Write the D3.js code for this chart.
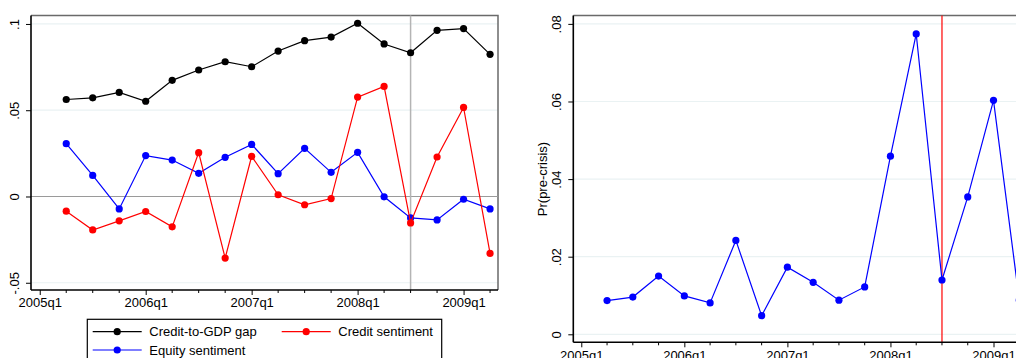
<!DOCTYPE html>
<html>
<head>
<meta charset="utf-8">
<script src="https://cdn.jsdelivr.net/npm/d3@7"></script>
<style>
  html, body { margin: 0; padding: 0; background: #fff; overflow: hidden; }
  svg { display: block; font-family: "Liberation Sans", Arial, sans-serif; }
</style>
</head>
<body>
<svg id="chart" width="1016" height="358"></svg>
<script>
// ---- data ----
const quarters = ["2005q2","2005q3","2005q4","2006q1","2006q2","2006q3","2006q4","2007q1","2007q2","2007q3","2007q4","2008q1","2008q2","2008q3","2008q4","2009q1","2009q2"];
const xTickLabels = ["2005q1","2006q1","2007q1","2008q1","2009q1"];
const creditGap = [0.0562,0.0572,0.0603,0.0552,0.0673,0.0733,0.0781,0.0752,0.0843,0.0903,0.0924,0.1004,0.0884,0.0833,0.0963,0.0973,0.0824];
const creditSentiment = [-0.0085,-0.0194,-0.0141,-0.0087,-0.0176,0.0254,-0.0357,0.0233,0.0010,-0.0048,-0.0012,0.0576,0.0638,-0.0153,0.0229,0.0516,-0.0330];
const equitySentiment = [0.0306,0.0122,-0.0072,0.0237,0.0211,0.0134,0.0227,0.0302,0.0132,0.0279,0.0140,0.0256,-0.0002,-0.0124,-0.0136,-0.0016,-0.0072];
const prCrisis = [0.0087,0.0096,0.0150,0.0099,0.0081,0.0242,0.0048,0.0173,0.0134,0.0088,0.0122,0.0459,0.0774,0.0140,0.0354,0.0603,0.0088];
const leftYTicks = [-0.05, 0, 0.05, 0.1];
const leftYTickLabels = ["-.05", "0", ".05", ".1"];
const rightYTicks = [0, 0.02, 0.04, 0.06, 0.08];
const rightYTickLabels = ["0", ".02", ".04", ".06", ".08"];
const crisisQuarter = "2008q3";
const legendLabels = ["Credit-to-GDP gap", "Credit sentiment", "Equity sentiment"];
const rightYTitle = "Pr(pre-crisis)";

// ---- helpers ----
const qIndex = s => (parseInt(s.slice(0, 4)) - 2005) * 4 + parseInt(s.slice(5)) - 1;
const svg = d3.select("#chart");
const gridColor = "#eaf2f3";
const allQuarterIdx = d3.range(0, 18);
const majorIdx = xTickLabels.map(qIndex);

function drawPanel(cfg) {
  const g = svg.append("g");
  const x = d3.scaleLinear().domain(cfg.xDomain).range([cfg.left, cfg.right]);
  const y = d3.scaleLinear().domain(cfg.yDomain).range([cfg.bottom, cfg.top]);

  // gridlines
  g.append("g").selectAll("line").data(cfg.yTicks).join("line")
    .attr("x1", cfg.left).attr("x2", cfg.right)
    .attr("y1", d => y(d)).attr("y2", d => y(d))
    .attr("stroke", gridColor).attr("stroke-width", 1.2);

  // frame top/right
  g.append("path")
    .attr("d", `M${cfg.left},${cfg.top}H${cfg.right}V${cfg.bottom}`)
    .attr("fill", "none").attr("stroke", "#6a6a6a").attr("stroke-width", 1.5);

  if (cfg.extra) cfg.extra(g, x, y);

  // series
  cfg.series.forEach(s => {
    const pts = quarters.map((q, i) => [qIndex(q), s.values[i]]);
    g.append("path").datum(pts)
      .attr("d", d3.line().x(d => x(d[0])).y(d => y(d[1])))
      .attr("fill", "none").attr("stroke", s.color).attr("stroke-width", 1.2);
    g.append("g").selectAll("circle").data(pts).join("circle")
      .attr("cx", d => x(d[0])).attr("cy", d => y(d[1]))
      .attr("r", 3.6).attr("fill", s.color);
  });

  // y axis
  const yAxis = d3.axisLeft(y).tickValues(cfg.yTicks).tickSize(5)
    .tickFormat((d, i) => cfg.yTickLabels[i]);
  const ya = g.append("g").attr("transform", `translate(${cfg.left},0)`).call(yAxis);
  ya.select(".domain").attr("stroke", "#000").attr("stroke-width", 1.6)
    .attr("d", `M0,${cfg.top}V${cfg.bottom}`);
  ya.selectAll(".tick line").attr("stroke", "#000").attr("stroke-width", 1);
  ya.selectAll(".tick text")
    .attr("transform", "rotate(-90)")
    .attr("x", 0).attr("y", -12).attr("dy", 0)
    .attr("text-anchor", "middle")
    .attr("font-size", 13).attr("fill", "#000")
    .style("font-family", "'Liberation Sans', Arial, sans-serif");

  // x axis: minor ticks
  const xa = g.append("g").attr("transform", `translate(0,${cfg.bottom})`);
  xa.append("g").selectAll("line").data(allQuarterIdx.filter(d => !majorIdx.includes(d))).join("line")
    .attr("x1", d => x(d)).attr("x2", d => x(d)).attr("y1", 0).attr("y2", 3)
    .attr("stroke", "#000").attr("stroke-width", 1);
  const xAxis = d3.axisBottom(x).tickValues(majorIdx).tickSize(5)
    .tickFormat((d, i) => xTickLabels[i]);
  const xg = xa.append("g").call(xAxis);
  xg.select(".domain").attr("stroke", "#000").attr("stroke-width", 1.6)
    .attr("d", `M${cfg.left},0H${cfg.right}`);
  xg.selectAll(".tick line").attr("stroke", "#000").attr("stroke-width", 1);
  xg.selectAll(".tick text").attr("font-size", 13).attr("fill", "#000").attr("y", 8).attr("dy", "0.71em")
    .style("font-family", "'Liberation Sans', Arial, sans-serif");

  return { x, y, g };
}

// ---- left panel ----
drawPanel({
  left: 31, right: 498, top: 15.5, bottom: 290,
  xDomain: [-0.33, 17.3], yDomain: [-0.0542, 0.1049],
  yTicks: leftYTicks, yTickLabels: leftYTickLabels,
  series: [
    { values: creditGap, color: "#000000" },
    { values: equitySentiment, color: "#0000ff" },
    { values: creditSentiment, color: "#ff0000" }
  ],
  extra: (g, x, y) => {
    g.append("line").attr("x1", 31).attr("x2", 498).attr("y1", y(0)).attr("y2", y(0))
      .attr("stroke", "#9a9a9a").attr("stroke-width", 1.2);
    g.append("line").attr("x1", x(qIndex(crisisQuarter))).attr("x2", x(qIndex(crisisQuarter)))
      .attr("y1", 15.5).attr("y2", 290).attr("stroke", "#b4b4b4").attr("stroke-width", 1.5);
  }
});

// ---- right panel ----
drawPanel({
  left: 573.3, right: 1027, top: 15.5, bottom: 342.3,
  xDomain: [-0.31, 17.3], yDomain: [-0.00206, 0.08216],
  yTicks: rightYTicks, yTickLabels: rightYTickLabels,
  series: [{ values: prCrisis, color: "#0000ff" }],
  extra: (g, x, y) => {
    g.append("line").attr("x1", x(qIndex(crisisQuarter))).attr("x2", x(qIndex(crisisQuarter)))
      .attr("y1", 15.5).attr("y2", 342.3).attr("stroke", "#ff0000").attr("stroke-width", 1.2);
  }
});

// right y title
svg.append("text")
  .attr("transform", `translate(547,179) rotate(-90)`)
  .attr("text-anchor", "middle").attr("font-size", 13).attr("fill", "#000")
  .text(rightYTitle);

// ---- legend ----
const lg = svg.append("g");
lg.append("rect").attr("x", 87.3).attr("y", 319.3).attr("width", 354.4).attr("height", 50)
  .attr("fill", "#fff").attr("stroke", "#000").attr("stroke-width", 1.2);
const legendItems = [
  { label: legendLabels[0], color: "#000000", lx: 92.7, ly: 331.7 },
  { label: legendLabels[1], color: "#ff0000", lx: 281.7, ly: 331.7 },
  { label: legendLabels[2], color: "#0000ff", lx: 92.7, ly: 350 }
];
legendItems.forEach(it => {
  lg.append("line").attr("x1", it.lx).attr("x2", it.lx + 49).attr("y1", it.ly).attr("y2", it.ly)
    .attr("stroke", it.color).attr("stroke-width", 1.2);
  lg.append("circle").attr("cx", it.lx + 24.5).attr("cy", it.ly).attr("r", 3.6).attr("fill", it.color);
  lg.append("text").attr("x", it.lx + 56.6).attr("y", it.ly).attr("dy", "0.35em")
    .attr("font-size", 13).attr("fill", "#000").text(it.label);
});
</script>
</body>
</html>
